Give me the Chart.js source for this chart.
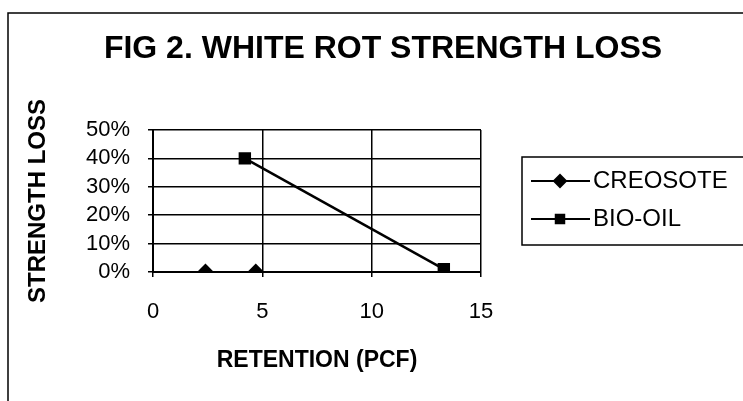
<!DOCTYPE html>
<html>
<head>
<meta charset="utf-8">
<title>Fig 2. White rot strength loss</title>
<script src="https://cdn.jsdelivr.net/npm/chart.js@4/dist/chart.umd.min.js"></script>
<style>
  body { margin: 0; background: #fff; }
  #wrap { position: relative; width: 743px; height: 401px; }
</style>
</head>
<body>
<div id="wrap"><canvas id="rotChart" width="743" height="401"></canvas></div>
<script>
// data (retention in pcf, strength loss in %)
const creosoteRetention = [2.4, 4.7];
const creosoteLoss = [0, 0];
const bioOilRetention = [4.2, 13.3];
const bioOilLoss = [40, 1];
const xTicks = [0, 5, 10, 15];
const yTicks = [0, 10, 20, 30, 40, 50];
const chartTitle = "FIG 2. WHITE ROT STRENGTH LOSS";

const font = "'Liberation Sans', Arial, sans-serif";

// outer frame of the figure (only top and left edges are visible) + title
const framePlugin = {
  id: "frame",
  beforeDraw(chart) {
    const ctx = chart.ctx;
    ctx.save();
    ctx.strokeStyle = "#000";
    ctx.lineWidth = 1.5;
    ctx.beginPath();
    ctx.moveTo(8, 401);
    ctx.lineTo(8, 13);
    ctx.lineTo(743, 13);
    ctx.stroke();
    ctx.fillStyle = "#000";
    ctx.font = "bold 32px " + font;
    ctx.textAlign = "center";
    ctx.textBaseline = "alphabetic";
    ctx.fillText(chartTitle, 383, 58);
    ctx.restore();
  }
};

// boxed legend with a line + marker sample for each series
const boxLegend = {
  id: "boxLegend",
  afterDraw(chart) {
    const ctx = chart.ctx;
    ctx.save();
    ctx.strokeStyle = "#000";
    ctx.lineWidth = 1.5;
    ctx.strokeRect(522, 157, 240, 88);
    chart.data.datasets.forEach((ds, i) => {
      const y = 181 + i * 38;
      ctx.lineWidth = 2;
      ctx.beginPath();
      ctx.moveTo(531, y);
      ctx.lineTo(590, y);
      ctx.stroke();
      Chart.helpers.drawPoint(ctx, {
        pointStyle: ds.pointStyle,
        radius: ds.pointRadius - 1,
        borderWidth: 1
      }, 560, y);
      ctx.fillStyle = "#000";
      ctx.font = "24px " + font;
      ctx.textBaseline = "middle";
      ctx.fillText(ds.label, 593, y);
    });
    ctx.restore();
  }
};

const ctx = document.getElementById("rotChart").getContext("2d");
const rotChart = new Chart(ctx, {
  type: "scatter",
  data: {
    datasets: [
      {
        label: "CREOSOTE",
        data: creosoteRetention.map((x, i) => ({ x: x, y: creosoteLoss[i] })),
        showLine: true,
        borderColor: "#000",
        backgroundColor: "#000",
        borderWidth: 2,
        pointStyle: "rectRot",
        pointRadius: 7
      },
      {
        label: "BIO-OIL",
        data: bioOilRetention.map((x, i) => ({ x: x, y: bioOilLoss[i] })),
        showLine: true,
        borderColor: "#000",
        backgroundColor: "#000",
        borderWidth: 2.5,
        pointStyle: "rect",
        pointRadius: 7
      }
    ]
  },
  options: {
    responsive: false,
    animation: false,
    layout: { padding: { left: 0, right: 262, top: 130, bottom: 0 } },
    scales: {
      x: {
        type: "linear",
        min: 0,
        max: 15,
        afterBuildTicks: (scale) => { scale.ticks = xTicks.map(v => ({ value: v })); },
        afterFit: (scale) => { scale.height = 129; },
        grid: { color: "#000", lineWidth: 1.5, tickLength: 5 },
        border: { color: "#000", width: 2 },
        ticks: { color: "#000", padding: 22, autoSkip: false, maxRotation: 0, font: { family: font, size: 22 } },
        title: {
          display: true,
          text: "RETENTION (PCF)",
          color: "#000",
          font: { family: font, size: 23, weight: "bold" },
          padding: { top: 0, bottom: 27 }
        }
      },
      y: {
        min: 0,
        max: 50,
        afterBuildTicks: (scale) => { scale.ticks = yTicks.map(v => ({ value: v })); },
        afterFit: (scale) => { scale.width = 153; },
        grid: { color: "#000", lineWidth: 1.5, tickLength: 5 },
        border: { color: "#000", width: 2 },
        ticks: {
          color: "#000",
          padding: 18,
          autoSkip: false,
          font: { family: font, size: 22, lineHeight: 1 },
          callback: (v) => v + "%"
        },
        title: {
          display: true,
          text: "STRENGTH LOSS",
          color: "#000",
          font: { family: font, size: 24, weight: "bold" },
          padding: { top: 24, bottom: 0 }
        }
      }
    },
    plugins: {
      legend: { display: false },
      tooltip: { enabled: false },
      title: { display: false }
    }
  },
  plugins: [framePlugin, boxLegend]
});
</script>
</body>
</html>
